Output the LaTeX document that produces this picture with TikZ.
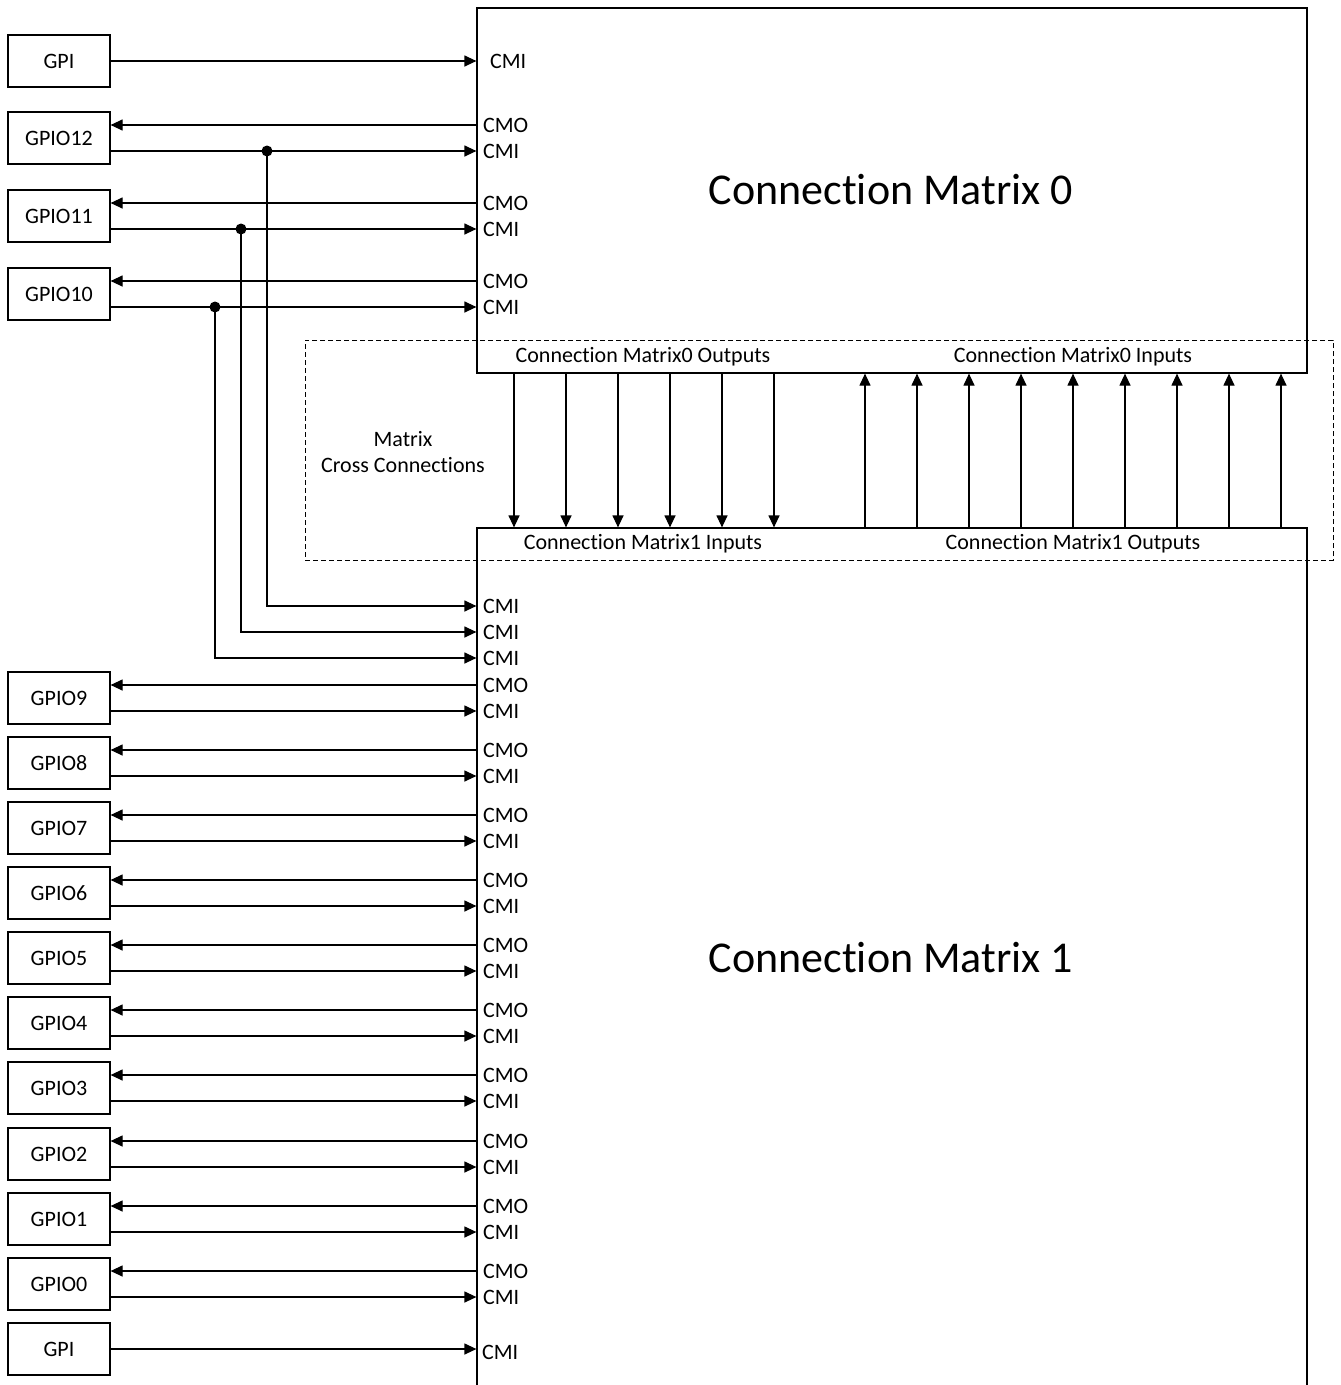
\documentclass[tikz,border=0pt]{standalone}
\usepackage{fontspec}
\setmainfont[Ligatures=NoCommon]{Carlito}
\usetikzlibrary{arrows.meta,calc}
\begin{document}
\begin{tikzpicture}[x=1pt,y=-1pt,
  every node/.style={font=\fontsize{22}{26}\selectfont},
  io/.style={draw, line width=1.2pt, minimum width=102pt, minimum height=52pt, inner sep=0pt},
  big/.style={draw, line width=1.2pt, inner sep=0pt},
  wire/.style={line width=1.2pt},
  arr/.style={wire, -{Triangle[length=12pt,width=11pt]}},
  port/.style={anchor=west, inner sep=0pt},
  dot/.style={circle, fill, inner sep=0pt, minimum size=11pt},
  bigtext/.style={font=\fontsize{44}{52}\selectfont},
]
\useasboundingbox (0,0) rectangle (1341,1385);

% main boxes
\node[big, minimum width=830pt, minimum height=365pt] (cm0) at (892,190.5) {};
\node[big, minimum width=830pt, minimum height=872pt] (cm1) at (892,964) {};
\node[bigtext] (cm0t) at (891,190) {Connection Matrix 0};
\node[bigtext] (cm1t) at (891,958) {Connection Matrix 1};

% cross connection region
\node[draw, line width=0.9pt, dash pattern=on 5pt off 3pt, minimum width=1028pt, minimum height=220pt, inner sep=0pt] (xc) at (819,450) {};
\node[align=center] (xct) at (403,452) {Matrix\\Cross Connections};
\node (o0) at (643,357) {Connection Matrix0 Outputs};
\node (i0) at (1073,357) {Connection Matrix0 Inputs};
\node (i1) at (643,544) {Connection Matrix1 Inputs};
\node (o1) at (1073,544) {Connection Matrix1 Outputs};

\foreach \x in {514,566,618,670,722,774}
  \draw[arr] (\x,0 |- cm0.south) -- (\x,0 |- cm1.north);
\foreach \x in {865,917,969,1021,1073,1125,1177,1229,1281}
  \draw[arr] (\x,0 |- cm1.north) -- (\x,0 |- cm0.south);

% top GPI
\node[io] (gpit) at (59,61) {GPI};
\draw[arr] (gpit) -- (gpit -| cm0.west);
\node[port] (gpitp) at (490,61) {CMI};

% GPIO 12..10
\foreach \n/\y/\dx/\py in {12/138/267/606, 11/216/241/632, 10/294/215/658}{
  \node[io] (g\n) at (59,\y) {GPIO\n};
  \coordinate (g\n o) at ([yshift=13pt]g\n.east);
  \coordinate (g\n i) at ([yshift=-13pt]g\n.east);
  \draw[arr] (g\n o -| cm0.west) -- (g\n o);
  \draw[arr] (g\n i) -- (g\n i -| cm0.west);
  \node[port] at (483,0 |- g\n o) {CMO};
  \node[port] at (483,0 |- g\n i) {CMI};
  \node[dot] (d\n) at (\dx,0 |- g\n i) {};
  \coordinate (p\n) at (cm1.west |- 0,\py);
  \draw[arr] (d\n.center) |- (p\n);
  \node[port] at (483,\py) {CMI};
}

% GPIO 9..0
\foreach \n/\y in {9/698,8/763,7/828,6/893,5/958,4/1023,3/1088,2/1154,1/1219,0/1284}{
  \node[io] (g\n) at (59,\y) {GPIO\n};
  \coordinate (g\n o) at ([yshift=13pt]g\n.east);
  \coordinate (g\n i) at ([yshift=-13pt]g\n.east);
  \draw[arr] (g\n o -| cm1.west) -- (g\n o);
  \draw[arr] (g\n i) -- (g\n i -| cm1.west);
  \node[port] at (483,0 |- g\n o) {CMO};
  \node[port] at (483,0 |- g\n i) {CMI};
}

% bottom GPI
\node[io] (gpib) at (59,1349) {GPI};
\draw[arr] (gpib) -- (gpib -| cm1.west);
\node[port] (gpibp) at (482,1352) {CMI};
\end{tikzpicture}
\end{document}
